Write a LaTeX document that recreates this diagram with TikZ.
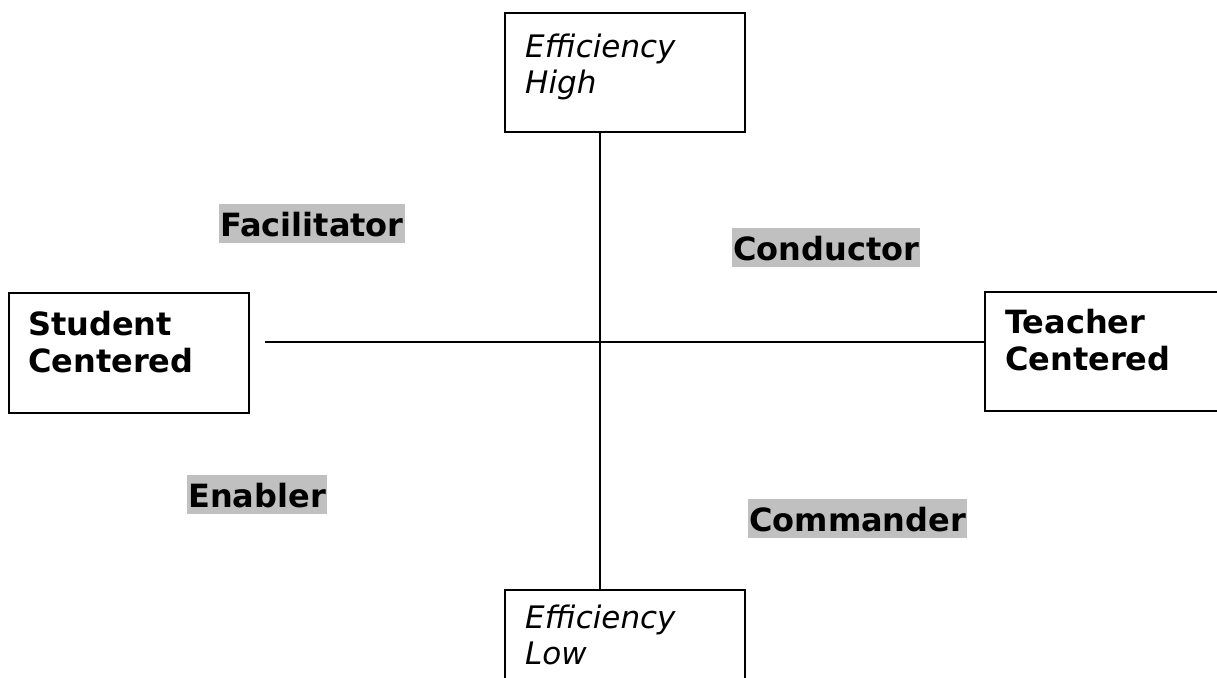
\documentclass[tikz,border=0pt]{standalone}
\usepackage{fontspec}
\setmainfont{DejaVu Sans}
\definecolor{labgray}{HTML}{C0C0C0}
\tikzset{
  box/.style={draw=black, line width=1.8pt, inner sep=0pt, anchor=north west},
  boxtext/.style={anchor=north west, inner sep=0pt, align=left, font=\fontsize{31}{36.5}\selectfont},
  boldtext/.style={boxtext, font=\fontsize{32}{37}\selectfont},
  quad/.style={fill=labgray, inner xsep=1pt, inner ysep=0pt, text height=32pt, text depth=7pt, anchor=base west, font=\fontsize{32}{37}\selectfont\bfseries},
  axis/.style={line width=1.7pt}
}
\begin{document}
\begin{tikzpicture}[x=1pt,y=-1pt]
\clip (0,0) rectangle (1217,677);
\fill[white] (0,0) rectangle (1217,677);
% boxes
\node[box, minimum width=240pt, minimum height=119pt] (top) at (504,12) {};
\node[box, minimum width=240pt, minimum height=130pt] (bot) at (504,589) {};
\node[box, minimum width=240pt, minimum height=120pt] (left) at (8,292) {};
\node[box, minimum width=260pt, minimum height=119pt] (right) at (984,291) {};
% box texts
\node[boxtext] (toptext) at (525,32) {\rule{0pt}{25pt}\itshape Efficiency\\\itshape High};
\node[boxtext] (bottext) at (525,603) {\rule{0pt}{25pt}\itshape Efficiency\\\itshape Low};
\node[boldtext] (lefttext) at (28,310) {\rule{0pt}{25pt}\bfseries Student\\\bfseries Centered};
\node[boldtext] (righttext) at (1005,308) {\rule{0pt}{25pt}\bfseries Teacher\\\bfseries Centered};
% axes
\coordinate (cx) at (600,342);
\coordinate (hl) at (265,342);
\draw[axis] (top.south -| cx) -- (bot.north -| cx);
\draw[axis] (hl) -- (right.west |- cx);
% quadrant labels
\node[quad] (fac) at (219,236) {Facilitator};
\node[quad] (con) at (732,260) {Conductor};
\node[quad] (ena) at (187,507) {Enabler};
\node[quad] (com) at (748,531) {Commander};
\end{tikzpicture}
\end{document}
